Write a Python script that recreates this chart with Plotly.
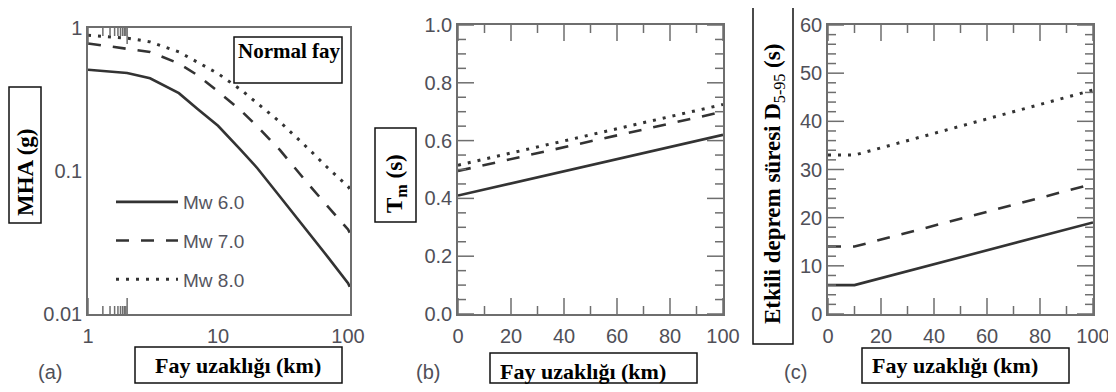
import math
import plotly.graph_objects as go

# ---------------- data ----------------
# (a) MHA vs fault distance (log-log)
dist_a = [1, 2, 3, 5, 7, 10, 15, 20, 30, 50, 70, 100, 103]
mha_mw6 = [0.51, 0.485, 0.445, 0.35, 0.27, 0.207, 0.14, 0.105, 0.066, 0.037, 0.025, 0.0164, 0.0155]
mha_mw7 = [0.78, 0.72, 0.68, 0.565, 0.466, 0.36, 0.265, 0.205, 0.14, 0.08, 0.056, 0.039, 0.037]
mha_mw8 = [0.89, 0.85, 0.80, 0.68, 0.575, 0.48, 0.37, 0.30, 0.22, 0.142, 0.105, 0.078, 0.075]

# (b) Tm vs fault distance
dist_b = [0, 100]
tm_mw6 = [0.41, 0.62]
tm_mw7 = [0.495, 0.70]
tm_mw8 = [0.515, 0.725]

# (c) D5-95 vs fault distance
dist_c = [0, 10, 100]
d_mw6 = [6, 6, 19]
d_mw7 = [14, 14, 27]
d_mw8 = [33, 33, 46.5]

series_names = ["Mw 6.0", "Mw 7.0", "Mw 8.0"]

# tick values
a_x_major = [1, 10, 100]
a_x_minor = [m * 10 ** e for e in range(0, 2) for m in range(2, 10)]
a_y_major = [0.01, 0.1, 1]
a_y_minor = [m * 10.0 ** e for e in range(-2, 0) for m in range(2, 10)]
lin_x_major = [0, 20, 40, 60, 80, 100]
lin_x_minor = [10, 30, 50, 70, 90]
b_y_major = [0.0, 0.2, 0.4, 0.6, 0.8, 1.0]
b_y_minor = [round(0.05 * i, 2) for i in range(21) if i % 4]
c_y_major = [0, 10, 20, 30, 40, 50, 60]
c_y_minor = [2 * i for i in range(31) if i % 5]

# ---------------- styling ----------------
OFF = 8  # page body margin
W, H = 1116 - OFF, 392 - OFF
LINE_C = "#333333"
AX_C = "#6e6e6e"
TICK_FONT = dict(family="Liberation Sans, Arial", size=20, color="#505058")
dashes = ["solid", "13px,12px", "3px,7px"]
MAJ_LEN, MIN_LEN = 16, 8


def px_x(p):
    return (p - OFF) / W


def px_y(p):
    return 1 - (p - OFF) / H


fig = go.Figure()

panels = [
    ("x", "y", dist_a, [mha_mw6, mha_mw7, mha_mw8], True),
    ("x2", "y2", dist_b, [tm_mw6, tm_mw7, tm_mw8], False),
    ("x3", "y3", dist_c, [d_mw6, d_mw7, d_mw8], False),
]
for xa, ya, xs, ys_list, leg in panels:
    for name, ys, dash in zip(series_names, ys_list, dashes):
        fig.add_trace(go.Scatter(
            x=xs, y=ys, mode="lines", name=name, xaxis=xa, yaxis=ya,
            line=dict(color=LINE_C, width=2.6 if dash != "3px,7px" else 3, dash=dash),
            showlegend=leg, legendgroup=name,
        ))


def ax(**kw):
    d = dict(showline=True, linecolor=AX_C, linewidth=1.5, mirror=True,
             ticks="", showgrid=False, zeroline=False, tickfont=TICK_FONT)
    d.update(kw)
    return d


dom_a = dict(x=[88, 350], y=[314, 28])
dom_b = dict(x=[458, 723], y=[314, 25])
dom_c = dict(x=[828, 1093], y=[314, 25])

fig.update_layout(
    template="none",
    width=W, height=H, margin=dict(l=0, r=0, t=0, b=0),
    xaxis=ax(domain=[px_x(dom_a["x"][0]), px_x(dom_a["x"][1])], anchor="y", type="log", range=[0, 2.015],
             tickmode="array", tickvals=a_x_major, ticktext=["1", "10", "100"], ticklabelstandoff=3),
    yaxis=ax(domain=[px_y(dom_a["y"][0]), px_y(dom_a["y"][1])], anchor="x", type="log", range=[-2, 0],
             tickmode="array", tickvals=a_y_major, ticktext=["0.01", "0.1", "1"]),
    xaxis2=ax(domain=[px_x(dom_b["x"][0]), px_x(dom_b["x"][1])], anchor="y2", range=[0, 100],
              tickmode="array", tickvals=lin_x_major, ticklabelstandoff=3),
    yaxis2=ax(domain=[px_y(dom_b["y"][0]), px_y(dom_b["y"][1])], anchor="x2", range=[0, 1],
              tickmode="array", tickvals=b_y_major, tickformat=".1f"),
    xaxis3=ax(domain=[px_x(dom_c["x"][0]), px_x(dom_c["x"][1])], anchor="y3", range=[0, 100],
              tickmode="array", tickvals=lin_x_major, ticklabelstandoff=3),
    yaxis3=ax(domain=[px_y(dom_c["y"][0]), px_y(dom_c["y"][1])], anchor="x3", range=[0, 60],
              tickmode="array", tickvals=c_y_major),
    legend=dict(x=px_x(111), y=px_y(183), xanchor="left", yanchor="top",
                bgcolor="rgba(0,0,0,0)", itemwidth=62,
                font=dict(family="Liberation Sans, Arial", size=19, color="#555560"),
                traceorder="grouped", tracegroupgap=11),
)

shapes = []


def tick_shapes(xa, ya, dom, xmaj, xmin, ymaj, ymin, logx=False, logy=False):
    pw = dom["x"][1] - dom["x"][0]
    ph = dom["y"][0] - dom["y"][1]
    tline = dict(color=AX_C, width=1.5)
    for vals, ln in ((xmaj, MAJ_LEN), (xmin, MIN_LEN)):
        f = ln / ph
        for v in vals:
            xv = math.log10(v) if logx else v
            for y0, y1 in ((0, f), (1, 1 - f)):
                shapes.append(dict(type="line", xref=xa, yref=ya + " domain",
                                   x0=xv, x1=xv, y0=y0, y1=y1, line=tline, layer="above"))
    for vals, ln in ((ymaj, MAJ_LEN), (ymin, MIN_LEN)):
        f = ln / pw
        for v in vals:
            yv = math.log10(v) if logy else v
            for x0, x1 in ((0, f), (1, 1 - f)):
                shapes.append(dict(type="line", xref=xa + " domain", yref=ya,
                                   x0=x0, x1=x1, y0=yv, y1=yv, line=tline, layer="above"))


tick_shapes("x", "y", dom_a, a_x_major, a_x_minor, a_y_major, a_y_minor, logx=True, logy=True)
tick_shapes("x2", "y2", dom_b, lin_x_major, lin_x_minor, b_y_major, b_y_minor)
tick_shapes("x3", "y3", dom_c, lin_x_major, lin_x_minor, c_y_major, c_y_minor)

SERIF = "Liberation Serif, Times New Roman"
annotations = []


def box(x0, y0, x1, y1):
    shapes.append(dict(type="rect", xref="paper", yref="paper",
                       x0=px_x(x0), x1=px_x(x1), y0=px_y(y1), y1=px_y(y0),
                       line=dict(color="#111111", width=1.5)))


def text(x, y, s, size=22, angle=0, family=SERIF, color="#000000"):
    annotations.append(dict(xref="paper", yref="paper", x=px_x(x), y=px_y(y), text=s,
                            showarrow=False, xanchor="center", yanchor="middle",
                            textangle=angle, font=dict(family=family, size=size, color=color)))


# Normal fay box
box(234, 37, 342, 83)
text(289, 51, "<b>Normal fay</b>", size=21)

# y-axis title boxes
box(9, 87, 41, 223)
text(26, 172, "<b>MHA (g)</b>", size=23, angle=-90)
box(375, 128, 416, 222)
text(396, 184, "<b>T<sub>m</sub> (s)</b>", size=23, angle=-90)
box(753, 5, 793, 344)
text(774, 184, "<b>Etkili deprem süresi D</b><sub>5-95</sub><b> (s)</b>", size=23, angle=-90)

# x-axis title boxes
box(135, 347, 342, 383)
text(238, 365, "<b>Fay uzaklığı (km)</b>", size=22)
box(490, 353, 697, 383)
text(583, 371, "<b>Fay uzaklığı (km)</b>", size=22)
box(862, 348, 1069, 383)
text(955, 365, "<b>Fay uzaklığı (km)</b>", size=22)

# panel letters
for lx, lab in [(50, "(a)"), (428, "(b)"), (795, "(c)")]:
    text(lx, 372, lab, size=20, family="Liberation Sans, Arial", color="#505058")

fig.update_layout(shapes=shapes, annotations=annotations)
fig.write_html("out.html")
